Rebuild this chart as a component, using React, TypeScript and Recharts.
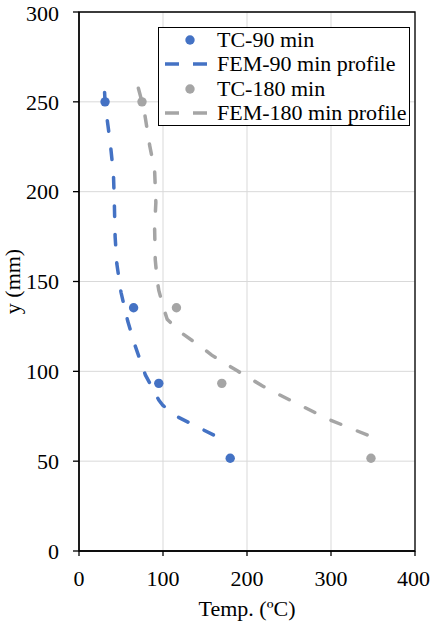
import React from 'react';
import {
  ScatterChart,
  Scatter,
  XAxis,
  YAxis,
  CartesianGrid,
  ReferenceArea,
  Legend,
} from 'recharts';

// Thermocouple readings
const tc90Temp = [31, 65, 95, 180];
const tc90Y = [250, 135.4, 93.3, 51.6];
const tc180Temp = [75, 116, 170, 347.6];
const tc180Y = [250, 135.4, 93.3, 51.6];

// FEM profiles
const fem90Temp = [30, 31, 33, 37, 41, 42, 43, 45, 50, 58, 67, 79, 95, 100, 116, 160];
const fem90Y = [260, 250, 242, 228, 210, 195, 175, 160, 144, 128, 114, 98, 84, 81, 75, 64.6];
const fem180Temp = [67, 75, 78, 84, 90, 91.5, 90, 90.8, 93, 95, 101.5, 105, 120, 146, 158, 188, 218, 234, 279, 297, 343];
const fem180Y = [264, 250, 244, 226, 212, 194, 180, 162, 151, 145, 134, 129, 122, 113.5, 109, 100.4, 92, 88, 77.5, 73.3, 64.6];

const xTicks = [0, 100, 200, 300, 400];
const yTicks = [0, 50, 100, 150, 200, 250, 300];

const seriesNames = ['TC-90 min', 'FEM-90 min profile', 'TC-180 min', 'FEM-180 min profile'];

const BLUE = '#4472C4';
const GRAY = '#A5A5A5';
const FONT = "'Liberation Serif', 'Times New Roman', serif";
const FS = 22;

const W = 430;
const H = 623;
const M = { top: 12, right: 15, bottom: 0, left: 0 };
const Y_W = 79;
const X_H = 72;

const zip = (t: number[], y: number[]) => t.map((v, i) => ({ t: v, y: y[i] }));

const tc90 = zip(tc90Temp, tc90Y);
const tc180 = zip(tc180Temp, tc180Y);
const fem90 = zip(fem90Temp, fem90Y);
const fem180 = zip(fem180Temp, fem180Y);

// dash styling: phase so the line finishes on a dash
const DASH = 10.5;
const GAP = 18;
const pxPerX = (W - M.left - M.right - Y_W) / 400;
const pxPerY = (H - M.top - M.bottom - X_H) / 300;
const dashOffset = (t: number[], y: number[]) => {
  let L = 0;
  for (let i = 1; i < t.length; i++) {
    L += Math.hypot((t[i] - t[i - 1]) * pxPerX, (y[i] - y[i - 1]) * pxPerY);
  }
  const p = DASH + GAP;
  return (((DASH - L) % p) + p) % p;
};

const dot = (color: string) => (props: any) => (
  <circle cx={props.cx} cy={props.cy} r={4.7} fill={color} />
);
const none = () => <g />;

const legendItems = [
  { name: seriesNames[0], color: BLUE, kind: 'dot' },
  { name: seriesNames[1], color: BLUE, kind: 'line' },
  { name: seriesNames[2], color: GRAY, kind: 'dot' },
  { name: seriesNames[3], color: GRAY, kind: 'line' },
];

const LegendBox = () => (
  <div
    style={{
      border: '1.3px solid #000',
      background: '#fff',
      boxSizing: 'border-box',
      width: 252,
      height: 99,
      paddingTop: 0,
      fontFamily: FONT,
      fontSize: FS,
    }}
  >
    {legendItems.map((it) => (
      <div key={it.name} style={{ display: 'flex', alignItems: 'center', height: 24.3 }}>
        <svg width={58} height={24} style={{ flex: 'none' }}>
          {it.kind === 'dot' ? (
            <circle cx={31} cy={12} r={4.7} fill={it.color} />
          ) : (
            <line
              x1={6}
              y1={12}
              x2={49}
              y2={12}
              stroke={it.color}
              strokeWidth={3.5}
              strokeDasharray="14 14"
            />
          )}
        </svg>
        <span style={{ whiteSpace: 'nowrap', lineHeight: '24px' }}>{it.name}</span>
      </div>
    ))}
  </div>
);

const tickStyle = { fontFamily: FONT, fontSize: FS, fill: '#000' };

export default function App() {
  return (
    <div style={{ position: 'absolute', left: 0, top: 0, background: '#fff', fontFamily: FONT }}>
      <ScatterChart width={W} height={H} margin={M} style={{ fontFamily: FONT }}>
        <CartesianGrid stroke="#d9d9d9" strokeWidth={1} />
        <XAxis
          type="number"
          dataKey="t"
          domain={[0, 400]}
          ticks={xTicks}
          height={X_H}
          tickSize={5}
          tickMargin={14}
          axisLine={{ stroke: '#000', strokeWidth: 1.3 }}
          tickLine={{ stroke: '#000', strokeWidth: 1.3 }}
          tick={tickStyle}
          label={{
            value: 'Temp. (ºC)',
            position: 'insideBottom',
            offset: 7,
            style: { fontFamily: FONT, fontSize: FS, fill: '#000' },
          }}
        />
        <YAxis
          type="number"
          dataKey="y"
          domain={[0, 300]}
          ticks={yTicks}
          width={Y_W}
          tickSize={6}
          tickMargin={14}
          axisLine={{ stroke: '#000', strokeWidth: 1.3 }}
          tickLine={{ stroke: '#000', strokeWidth: 1.3 }}
          tick={tickStyle}
          label={{
            value: 'y (mm)',
            angle: -90,
            position: 'insideLeft',
            offset: 12,
            style: { fontFamily: FONT, fontSize: FS, fill: '#000', textAnchor: 'middle' },
          }}
        />
        <ReferenceArea x1={0} x2={400} y1={0} y2={300} fill="none" stroke="#000" strokeWidth={1.3} />
        <Scatter
          name={seriesNames[1]}
          data={fem90}
          fill={BLUE}
          shape={none}
          line={{
            stroke: BLUE,
            strokeWidth: 3.5,
            strokeDasharray: `${DASH} ${GAP}`,
            strokeDashoffset: dashOffset(fem90Temp, fem90Y),
            strokeLinecap: 'round',
          }}
          lineType="joint"
          isAnimationActive={false}
        />
        <Scatter
          name={seriesNames[3]}
          data={fem180}
          fill={GRAY}
          shape={none}
          line={{
            stroke: GRAY,
            strokeWidth: 3.5,
            strokeDasharray: `${DASH} ${GAP}`,
            strokeDashoffset: dashOffset(fem180Temp, fem180Y),
            strokeLinecap: 'round',
          }}
          lineType="joint"
          isAnimationActive={false}
        />
        <Scatter name={seriesNames[0]} data={tc90} fill={BLUE} shape={dot(BLUE)} isAnimationActive={false} />
        <Scatter name={seriesNames[2]} data={tc180} fill={GRAY} shape={dot(GRAY)} isAnimationActive={false} />
        <Legend
          layout="vertical"
          align="center"
          verticalAlign="middle"
          content={() => <LegendBox />}
          wrapperStyle={{ top: 27, left: 158, width: 252, height: 99 }}
        />
      </ScatterChart>
    </div>
  );
}
